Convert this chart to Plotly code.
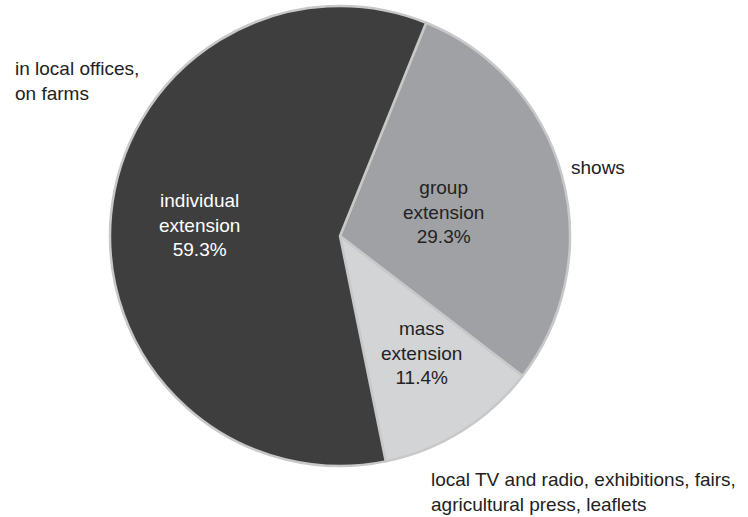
import plotly.graph_objects as go

# Data
categories = ["group extension", "mass extension", "individual extension"]
slice_labels = ["group<br>extension", "mass<br>extension", "individual<br>extension"]
values = [29.3, 11.4, 59.3]
descriptions = ["shows", "local TV and radio, exhibitions, fairs,<br>agricultural press, leaflets",
                "in local offices,<br>on farms"]

colors = ["#a0a1a5", "#d3d4d6", "#3e3e3e"]
text_colors = ["#222222", "#222222", "#ffffff"]

W, H = 748, 517
cx, cy, r = 340, 236, 230

fig = go.Figure(go.Pie(
    labels=categories,
    values=values,
    sort=False,
    direction="clockwise",
    rotation=22,
    marker=dict(colors=colors, line=dict(color="#c8c8c8", width=2.5)),
    textinfo="none",
    hoverinfo="label+percent",
    showlegend=False,
    domain=dict(x=[(cx - r) / W, (cx + r) / W], y=[1 - (cy + r) / H, 1 - (cy - r) / H]),
))

font_family = "Liberation Sans, Arial, sans-serif"
FS = 19
# in-slice label positions (pixel centers)
inner_pos = [(443, 212), (421, 353), (199, 225)]
total = sum(values)
for lab, v, (px, py), tc in zip(slice_labels, values, inner_pos, text_colors):
    fig.add_annotation(
        x=px / W, y=1 - py / H, xref="paper", yref="paper",
        text=f"{lab}<br>{v / total * 100:.1f}%",
        showarrow=False, xanchor="center", yanchor="middle",
        font=dict(family=font_family, size=FS, color=tc), align="center",
    )

outer_pos = [(569, 168), (429, 492), (13, 81)]
for d, (px, py) in zip(descriptions, outer_pos):
    fig.add_annotation(
        x=px / W, y=1 - py / H, xref="paper", yref="paper",
        text=d, showarrow=False, xanchor="left", yanchor="middle",
        font=dict(family=font_family, size=FS, color="#222222"), align="left",
    )

fig.update_layout(
    width=W, height=H,
    margin=dict(l=0, r=0, t=0, b=0),
    paper_bgcolor="white", plot_bgcolor="white",
)

fig.write_html("out.html", config={"displayModeBar": False},
               post_script="document.body.style.margin='0';document.body.style.padding='0';")
